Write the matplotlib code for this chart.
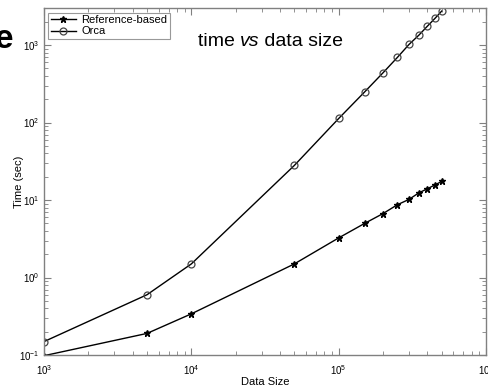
import matplotlib
matplotlib.use("Agg")
import matplotlib.pyplot as plt
from matplotlib.ticker import LogLocator, NullFormatter

plt.rcParams['font.family'] = ['Liberation Sans', 'DejaVu Sans']
plt.rcParams['mathtext.fontset'] = 'custom'
plt.rcParams['mathtext.rm'] = 'Liberation Sans'

data_size = [1e3, 5e3, 1e4, 5e4, 1e5, 1.5e5, 2e5, 2.5e5, 3e5, 3.5e5, 4e5, 4.5e5, 5e5]
ref_based = [0.098, 0.19, 0.34, 1.5, 3.25, 5.0, 6.7, 8.7, 10.2, 12.4, 14.0, 15.7, 17.4]
orca = [0.149, 0.6, 1.5, 28, 113, 249, 440, 693, 1020, 1345, 1757, 2213, 2750]

fig = plt.figure(figsize=(4.89, 3.88), dpi=100)
ax = fig.add_axes([0.090, 0.085, 0.904, 0.894])

ax.plot(data_size, ref_based, color='black', lw=1.0, marker='*', ms=5,
        mfc='black', mec='black', label='Reference-based')
ax.plot(data_size, orca, color='black', lw=1.0, marker='o', ms=5,
        mfc='none', mec='#444444', mew=0.9, label='Orca')

ax.set_xscale('log')
ax.set_yscale('log')
ax.set_xlim(1e3, 1e6)
ax.set_ylim(0.1, 3000)

for s in ax.spines.values():
    s.set_color('#808080')
    s.set_linewidth(1.0)

ax.xaxis.set_major_locator(LogLocator(base=10))
ax.yaxis.set_major_locator(LogLocator(base=10))
ax.xaxis.set_minor_locator(LogLocator(base=10, subs=range(2, 10)))
ax.yaxis.set_minor_locator(LogLocator(base=10, subs=range(2, 10)))
ax.xaxis.set_minor_formatter(NullFormatter())
ax.yaxis.set_minor_formatter(NullFormatter())
ax.tick_params(which='both', direction='in', top=True, right=True,
               color='#808080', labelsize=7)
ax.tick_params(which='major', length=5, width=0.8)
ax.tick_params(which='minor', length=3, width=0.6)
ax.tick_params(axis='x', pad=6)

ax.set_xlabel('Data Size', fontsize=8, labelpad=0)
ax.set_ylabel('Time (sec)', fontsize=8)
ax.yaxis.set_label_coords(-0.045, 0.5)

leg = ax.legend(loc='upper left', fontsize=8, frameon=True, fancybox=False,
                borderpad=0.25, labelspacing=0.1, handlelength=2.2,
                handletextpad=0.5, borderaxespad=0.4)
leg.get_frame().set_edgecolor('#808080')
leg.get_frame().set_linewidth(0.8)

# title pieces with italic "vs"
t1 = fig.text(0.404, 0.881, 'time ', fontsize=14, ha='left', va='baseline')
fig.canvas.draw()
x2 = t1.get_window_extent().x1 / fig.bbox.width
t2 = fig.text(x2, 0.881, 'vs', fontsize=14, style='italic', va='baseline')
fig.canvas.draw()
x3 = t2.get_window_extent().x1 / fig.bbox.width
fig.text(x3, 0.881, ' data size', fontsize=14, va='baseline')

fig.text(0.027, 0.875, 'e', fontsize=24, fontweight='bold', ha='right',
         va='baseline')

fig.savefig('out.png', dpi=100)
